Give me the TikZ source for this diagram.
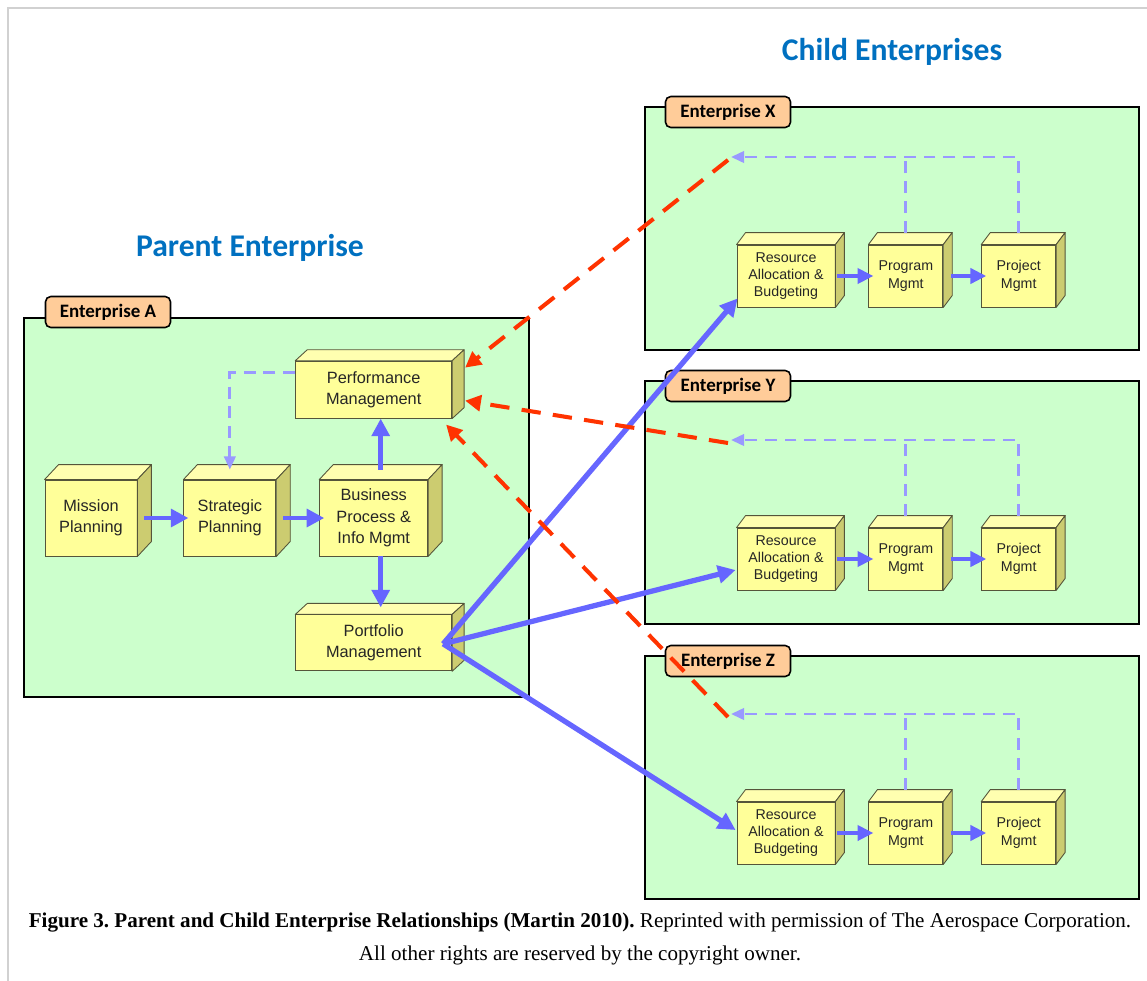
\documentclass[tikz,border=0pt]{standalone}
\usepackage{fontspec}
\setmainfont{Liberation Serif}
\setsansfont{Liberation Sans}
\newfontfamily\calfont{Carlito}
\usetikzlibrary{positioning,arrows.meta,calc}
\frenchspacing
\definecolor{entfill}{HTML}{CCFFCC}
\definecolor{tagfill}{HTML}{FFCC99}
\definecolor{boxfront}{HTML}{FFFF99}
\definecolor{boxtop}{HTML}{FFFFB0}
\definecolor{boxside}{HTML}{CCCC70}
\definecolor{boxedge}{HTML}{55553A}
\definecolor{cblue}{HTML}{6666FF}
\definecolor{clav}{HTML}{9999FF}
\definecolor{cred}{HTML}{FF3300}
\definecolor{hdr}{HTML}{0070C0}
\tikzset{
  frame/.style={line width=1.2pt, draw=black!18},
  hd/.style={font=\calfont\bfseries\fontsize{18}{20}\selectfont, text=hdr},
  ent/.style={rectangle, draw=black, fill=entfill, line width=1.2pt, anchor=north west, inner sep=0pt},
  tag/.style={rectangle, rounded corners=3pt, draw=black, fill=tagfill, line width=0.9pt, inner sep=0pt,
              minimum width=2.5cm, minimum height=0.62cm, font=\calfont\bfseries\fontsize{10.8}{12}\selectfont},
  blk/.style={rectangle, draw=boxedge, fill=boxfront, line width=0.5pt, inner sep=0pt, align=center,
              text=black!85, font=\sffamily\fontsize{9.3}{12.2}\selectfont},
  sblk/.style={blk, minimum height=1.24cm, font=\sffamily\fontsize{8.1}{9.9}\selectfont},
  face/.style={draw=boxedge, line width=0.5pt, line join=round},
  flow/.style={-{Triangle[length=10pt,width=10pt]}, line width=2.8pt, draw=cblue},
  sflow/.style={-{Triangle[length=9pt,width=8.5pt]}, line width=2.2pt, draw=cblue},
  link/.style={-{Triangle[length=10pt,width=10pt]}, line width=3pt, draw=cblue},
  fbl/.style={line width=1.6pt, draw=clav, dash pattern=on 6.8pt off 4.5pt},
  fb/.style={fbl, -{Triangle[length=7.5pt,width=6.5pt]}},
  perf/.style={-{Triangle[length=9pt,width=9pt]}, line width=2.3pt, draw=cred, dash pattern=on 11pt off 7pt},
  captext/.style={font=\rmfamily\fontsize{12}{14}\selectfont}
}
\begin{document}
\begin{tikzpicture}[x=0.02cm, y=-0.02cm]
\useasboundingbox (0,0) rectangle (1147,981);
\draw[frame] (8,981) -- (8,8) -- (1147,8);
% titles
\node[hd] (tchild) at (892,52) {Child Enterprises};
\node[hd] (tpar) at (250,248) {Parent Enterprise};
% parent enterprise
\node[ent, minimum width=10.1cm, minimum height=7.58cm] (entA) at (23,317) {};
\node[tag] (tagA) at (108,312) {Enterprise A};
\node[blk, minimum width=1.84cm, minimum height=1.52cm] (mp) at (91,518) {Mission\\Planning};
\node[blk, minimum width=1.84cm, minimum height=1.52cm, right=0.92cm of mp] (sp) {Strategic\\Planning};
\node[blk, minimum width=2.16cm, minimum height=1.52cm, right=0.86cm of sp] (bp) {Business\\Process \&\\Info Mgmt};
\node[blk, minimum width=3.12cm, minimum height=1.14cm, above=1.22cm of bp] (pm) {Performance\\Management};
\node[blk, minimum width=3.12cm, minimum height=1.12cm, below=1.16cm of bp] (po) {Portfolio\\Management};
\foreach \n/\hx/\hy in {mp/14/15, sp/14/15, bp/14/15, pm/12/11, po/12/11}{
  \filldraw[face, fill=boxtop] (\n.north west) -- ++(\hx,-\hy) -- ([shift={(\hx,-\hy)}]\n.north east) -- (\n.north east) -- cycle;
  \filldraw[face, fill=boxside] (\n.north east) -- ++(\hx,-\hy) -- ([shift={(\hx,-\hy)}]\n.south east) -- (\n.south east) -- cycle;
}
\draw[flow] ([shift={(7,0)}]mp.east) -- ([shift={(5,0)}]sp.west);
\draw[flow] ([shift={(7,0)}]sp.east) -- ([shift={(5,0)}]bp.west);
\draw[flow] ([shift={(7,-10)}]bp.north) -- ([shift={(7,0)}]bp.north |- pm.south);
\draw[flow] ([shift={(7,0)}]bp.south) -- ([shift={(7,-7)}]bp.south |- po.north);
\draw[fb] ([shift={(0,-17)}]pm.west) -| ([shift={(0,-10)}]sp.north);
% child enterprises
\foreach \ent/\roff/\boff in {X/0/0, Y/274/283, Z/549/557}{
  \node[ent, minimum width=9.88cm, minimum height=4.86cm] (ent\ent) at (644,{106+\roff}) {};
  \node[tag] (tag\ent) at (728,{112+\roff}) {Enterprise \ent};
  \node[sblk, minimum width=1.96cm] (ra\ent) at (786,{276+\boff}) {Resource\\Allocation \&\\Budgeting};
  \node[sblk, minimum width=1.48cm, right=0.66cm of ra\ent] (pg\ent) {Program\\Mgmt};
  \node[sblk, minimum width=1.48cm, right=0.76cm of pg\ent] (pj\ent) {Project\\Mgmt};
  \foreach \n in {ra\ent, pg\ent, pj\ent}{
    \filldraw[face, fill=boxtop] (\n.north west) -- ++(9,-12) -- ([shift={(9,-12)}]\n.north east) -- (\n.north east) -- cycle;
    \filldraw[face, fill=boxside] (\n.north east) -- ++(9,-12) -- ([shift={(9,-12)}]\n.south east) -- (\n.south east) -- cycle;
  }
  \draw[sflow] ([shift={(2,0)}]ra\ent.east) -- ([shift={(5,0)}]pg\ent.west);
  \draw[sflow] ([shift={(8,0)}]pg\ent.east) -- ([shift={(5,0)}]pj\ent.west);
  \coordinate (fb\ent) at (731,{157+\boff});
  \draw[fbl] ([shift={(0,-12)}]pg\ent.north) -- (pg\ent.north |- fb\ent);
  \draw[fb] ([shift={(0,-12)}]pj\ent.north) |- (fb\ent);
}
% parent to child
\draw[link] ([shift={(-9,1)}]po.east) -- ([shift={(1,-9)}]raX.south west);
\draw[link] ([shift={(-9,1)}]po.east) -- ([shift={(-1,11)}]raY.west);
\draw[link] ([shift={(-9,1)}]po.east) -- ([shift={(-1,-3)}]raZ.west);
% reporting back
\draw[perf] ([shift={(-3,3)}]fbX) -- ([shift={(13,-22)}]pm.east);
\draw[perf] ([shift={(-3,3)}]fbY) -- ([shift={(13,11)}]pm.east);
\draw[perf] ([shift={(-3,3)}]fbZ) -- ([shift={(-6,6)}]pm.south east);
% caption
\node[captext] (cap1) at (580,922) {\textbf{Figure 3. Parent and Child Enterprise Relationships (Martin 2010).} Reprinted with permission of The Aerospace Corporation.};
\node[captext] (cap2) at (580,955) {All other rights are reserved by the copyright owner.};
\end{tikzpicture}
\end{document}
